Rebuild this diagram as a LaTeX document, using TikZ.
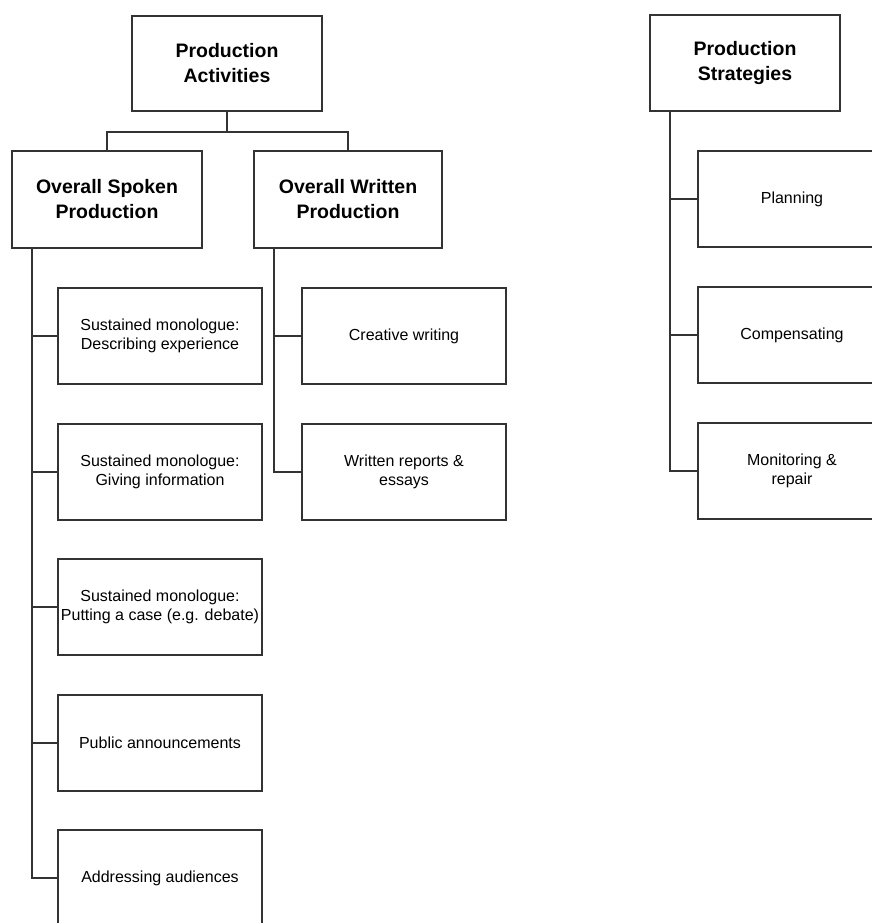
\documentclass[tikz,border=0pt]{standalone}
\usepackage{fontspec}
\setmainfont{Liberation Sans}
\begin{document}
\begin{tikzpicture}[x=1pt,y=-1pt,
  box/.style={draw=black!80, line width=2pt, rectangle, inner sep=0pt, align=center},
  bigbox/.style={box, minimum width=190pt, minimum height=96pt,
     font=\fontsize{19.5}{25}\selectfont\bfseries},
  smallbox/.style={box, minimum width=204pt, minimum height=96pt,
     font=\fontsize{16}{19}\selectfont},
  link/.style={draw=black!80, line width=2pt}]
\path[use as bounding box] (0,0) rectangle (872,923);
\fill[white] (0,0) rectangle (872,923);
\clip (0,0) rectangle (872,923);

% top level
\node[bigbox, minimum height=95pt] (pa) at (227,63.5) {Production\\Activities};
\node[bigbox] (ps) at (745,63) {Production\\Strategies};

% second level
\node[bigbox, minimum height=97pt] (osp) at (107,199.5) {Overall Spoken\\Production};
\node[bigbox, minimum width=188pt, minimum height=97pt] (owp) at (348,199.5) {Overall Written\\Production};

% spoken production boxes
\node[smallbox] (s1) at (160,336) {Sustained monologue:\\Describing experience};
\node[smallbox] (s2) at (160,472) {Sustained monologue:\\Giving information};
\node[smallbox] (s3) at (160,607) {Sustained monologue:\\Putting a case (e.g. debate)};
\node[smallbox] (s4) at (160,743) {Public announcements};
\node[smallbox] (s5) at (160,878) {Addressing audiences};

% written production boxes
\node[smallbox] (w1) at (404,336) {Creative writing};
\node[smallbox] (w2) at (404,472) {Written reports \&\\essays};

% strategies boxes
\node[smallbox, minimum width=188pt] (p1) at (792,199) {Planning};
\node[smallbox, minimum width=188pt] (p2) at (792,335) {Compensating};
\node[smallbox, minimum width=188pt] (p3) at (792,471) {Monitoring \&\\repair};

% connectors: top level
\draw[link] (pa.south) -- ++(0,20) coordinate (bar);
\draw[link] (osp.north) -- (osp.north |- bar) -- (owp.north |- bar) -- (owp.north);

% spoken trunk
\coordinate (ts) at (32,248);
\draw[link] (osp.south -| ts) |- (s5.west);
\foreach \b in {s1,s2,s3,s4} \draw[link] (\b.west) -- (\b.west -| ts);

% written trunk
\coordinate (tw) at (274,248);
\draw[link] (owp.south -| tw) |- (w2.west);
\draw[link] (w1.west) -- (w1.west -| tw);

% strategies trunk
\coordinate (tp) at (670,111);
\draw[link] (ps.south -| tp) |- (p3.west);
\foreach \b in {p1,p2} \draw[link] (\b.west) -- (\b.west -| tp);
\end{tikzpicture}
\end{document}
